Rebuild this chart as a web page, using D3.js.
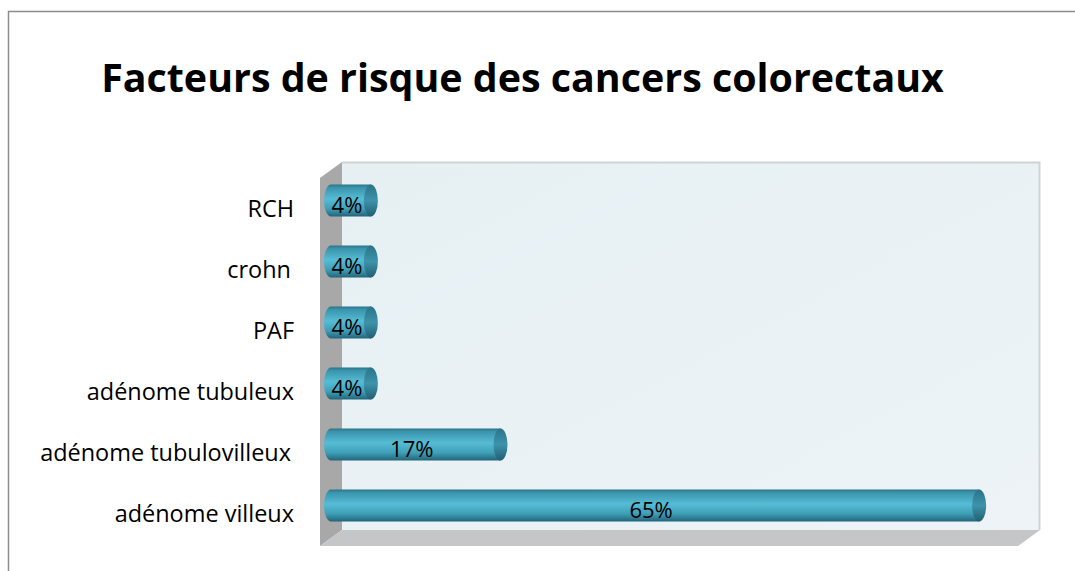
<!DOCTYPE html>
<html><head><meta charset="utf-8">
<script src="https://cdn.jsdelivr.net/npm/d3@7"></script>
<style>body{margin:0;background:#fff}svg{display:block}</style>
</head><body>
<svg id="c" width="1075" height="571"></svg>
<script>
const categories = ["RCH", "crohn ", "PAF", "adénome tubuleux", "adénome tubulovilleux ", "adénome villeux"];
const values = [4, 4, 4, 4, 17, 65];
const valueLabels = ["4%", "4%", "4%", "4%", "17%", "65%"];
const title = "Facteurs de risque des cancers colorectaux";

const svg = d3.select("#c");
const FONT = "'Open Sans', 'Liberation Sans', sans-serif";

// frame
svg.append("path").attr("d", "M8.5,571 V11.5 H1075").attr("fill", "none").attr("stroke", "#8c8c8c").attr("stroke-width", 1.5);

// title fitted to width
const t = svg.append("text").attr("x", 522.5).attr("y", 92).attr("text-anchor", "middle")
  .attr("font-family", FONT).attr("font-weight", "bold").attr("font-size", 38).attr("fill", "#000").text(title);
let tw = t.node().getComputedTextLength();
t.attr("font-size", 38 * 843 / tw);

const defs = svg.append("defs");
const wg = defs.append("linearGradient").attr("id", "wall").attr("x1", 0).attr("y1", 0).attr("x2", 1).attr("y2", 1);
wg.append("stop").attr("offset", 0).attr("stop-color", "#e6f0f3");
wg.append("stop").attr("offset", 1).attr("stop-color", "#edf3f7");
const cg = defs.append("linearGradient").attr("id", "cyl").attr("x1", 0).attr("y1", 0).attr("x2", 0).attr("y2", 1);
[[0, "#2a7488"], [0.1, "#3a95ad"], [0.45, "#56bcd5"], [0.75, "#3fa0b8"], [1, "#22657a"]]
  .forEach(([o, c]) => cg.append("stop").attr("offset", o).attr("stop-color", c));
const eg = defs.append("linearGradient").attr("id", "cap").attr("x1", 0).attr("y1", 0).attr("x2", 0).attr("y2", 1);
[[0, "#2a7488"], [0.5, "#3d93aa"], [1, "#215f72"]]
  .forEach(([o, c]) => eg.append("stop").attr("offset", o).attr("stop-color", c));

// 3D box
const bx0 = 342, bx1 = 1040, by0 = 162, by1 = 530, dx = -22, dy = 16;
svg.append("rect").attr("x", bx0).attr("y", by0).attr("width", bx1 - bx0).attr("height", by1 - by0)
  .attr("fill", "url(#wall)");
svg.append("path").attr("d", `M${bx0},${by0+0.5} H${bx1-0.5} V${by1}`).attr("fill", "none").attr("stroke", "#cfd3d5").attr("stroke-width", 2);
svg.append("path").attr("d", `M${bx0+dx},${by0+dy} L${bx0},${by0} L${bx0},${by1} L${bx0+dx},${by1+dy} Z`)
  .attr("fill", "#a8a8a8");
svg.append("path").attr("d", `M${bx0},${by1} L${bx1},${by1} L${bx1+dx},${by1+dy} L${bx0+dx},${by1+dy} Z`)
  .attr("fill", "#c4c6c8");

// scales
const x = d3.scaleLinear().domain([0, 70]).range([331, 1029]);
const y = d3.scaleBand().domain(categories).range([170, 536]).paddingInner(0.475).paddingOuter(0.2375);
const h = y.bandwidth(), rx = 7;

// category labels
const labelG = svg.append("g");
const lbls = labelG.selectAll("text").data(categories).join("text")
  .attr("x", 294).attr("y", d => y(d) + h / 2 + 16).attr("text-anchor", "end")
  .attr("font-family", FONT).attr("font-size", 20).attr("fill", "#000")
  .text(d => d.trimEnd());
const ref = lbls.filter(d => d.startsWith("adénome tubulo")).node().getComputedTextLength();
lbls.attr("font-size", 20 * 251 / ref);
lbls.filter(d => d.endsWith(" ")).attr("x", 291);

// bars
const bars = svg.append("g").selectAll("g").data(categories).join("g");
bars.append("path").attr("d", (d, i) => {
  const x0 = x(0), x1 = x(values[i]), yt = y(d), yb = yt + h;
  return `M${x1},${yt} H${x0} A${rx},${h/2} 0 0 0 ${x0},${yb} H${x1} Z`;
}).attr("fill", "url(#cyl)");
bars.append("ellipse").attr("cx", (d, i) => x(values[i])).attr("cy", d => y(d) + h / 2)
  .attr("rx", rx).attr("ry", h / 2).attr("fill", "url(#cap)");
bars.append("text").attr("x", (d, i) => (x(0) + x(values[i])) / 2 - 4)
  .attr("y", d => y(d) + h / 2 + 12).attr("text-anchor", "middle")
  .attr("font-family", FONT).attr("font-size", 22).attr("fill", "#000")
  .text((d, i) => valueLabels[i]);
</script>
</body></html>
